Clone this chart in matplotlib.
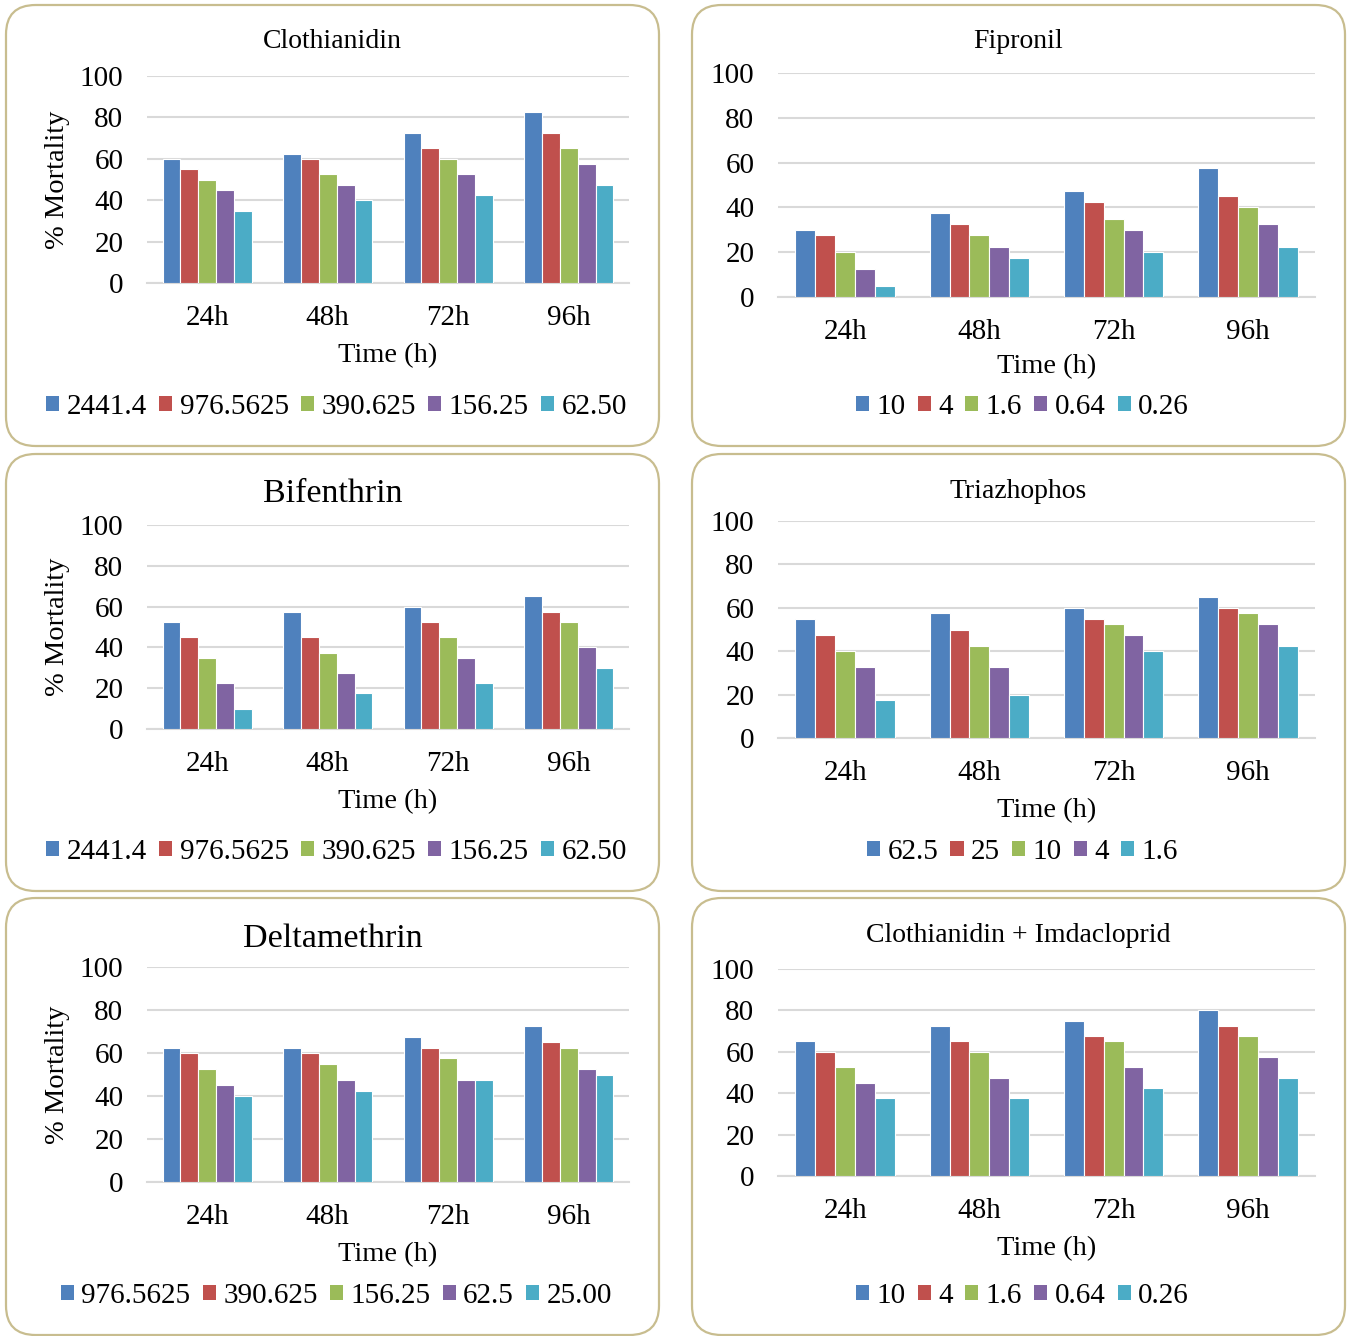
import matplotlib
matplotlib.use("Agg")
import matplotlib.pyplot as plt
from matplotlib.patches import FancyBboxPatch, Patch
import numpy as np

plt.rcParams['font.family'] = ['Liberation Serif', 'DejaVu Serif']

times = ["24h", "48h", "72h", "96h"]
colors = ["#4F81BD", "#C0504D", "#9BBB59", "#8064A2", "#4BACC6"]

# Clothianidin
cloth_labels = ["2441.4", "976.5625", "390.625", "156.25", "62.50"]
cloth_vals = [[60, 62.5, 72.5, 82.5],
              [55, 60, 65, 72.5],
              [50, 52.5, 60, 65],
              [45, 47.5, 52.5, 57.5],
              [35, 40, 42.5, 47.5]]
# Fipronil
fip_labels = ["10", "4", "1.6", "0.64", "0.26"]
fip_vals = [[30, 37.5, 47.5, 57.5],
            [27.5, 32.5, 42.5, 45],
            [20, 27.5, 35, 40],
            [12.5, 22.5, 30, 32.5],
            [5, 17.5, 20, 22.5]]
# Bifenthrin
bif_labels = ["2441.4", "976.5625", "390.625", "156.25", "62.50"]
bif_vals = [[52.5, 57.5, 60, 65],
            [45, 45, 52.5, 57.5],
            [35, 37.5, 45, 52.5],
            [22.5, 27.5, 35, 40],
            [10, 17.5, 22.5, 30]]
# Triazhophos
tri_labels = ["62.5", "25", "10", "4", "1.6"]
tri_vals = [[55, 57.5, 60, 65],
            [47.5, 50, 55, 60],
            [40, 42.5, 52.5, 57.5],
            [32.5, 32.5, 47.5, 52.5],
            [17.5, 20, 40, 42.5]]
# Deltamethrin
del_labels = ["976.5625", "390.625", "156.25", "62.5", "25.00"]
del_vals = [[62.5, 62.5, 67.5, 72.5],
            [60, 60, 62.5, 65],
            [52.5, 55, 57.5, 62.5],
            [45, 47.5, 47.5, 52.5],
            [40, 42.5, 47.5, 50]]
# Clothianidin + Imdacloprid
ci_labels = ["10", "4", "1.6", "0.64", "0.26"]
ci_vals = [[65, 72.5, 75, 80],
           [60, 65, 67.5, 72.5],
           [52.5, 60, 65, 67.5],
           [45, 47.5, 52.5, 57.5],
           [37.5, 37.5, 42.5, 47.5]]

W, H = 1347, 1336
fig = plt.figure(figsize=(W / 100, H / 100), dpi=100)


def fx(x):
    return x / W


def fy(y):
    return 1 - y / H


panels = [
    dict(title="Clothianidin", labels=cloth_labels, vals=cloth_vals,
         box=(6, 5, 659, 446), ax=(147, 76, 629, 283), tfs=20, ty=42,
         ylabel=True, xl=356, lg=407),
    dict(title="Fipronil", labels=fip_labels, vals=fip_vals,
         box=(692, 5, 1345, 446), ax=(778, 73, 1315, 297), tfs=20, ty=42,
         ylabel=False, xl=367, lg=407),
    dict(title="Bifenthrin", labels=bif_labels, vals=bif_vals,
         box=(6, 454, 659, 891), ax=(147, 525, 629, 729), tfs=24.5, ty=494,
         ylabel=True, xl=802, lg=852),
    dict(title="Triazhophos", labels=tri_labels, vals=tri_vals,
         box=(692, 454, 1345, 891), ax=(778, 521, 1315, 738), tfs=20, ty=491,
         ylabel=False, xl=811, lg=852),
    dict(title="Deltamethrin", labels=del_labels, vals=del_vals,
         box=(6, 898, 659, 1335), ax=(147, 967, 629, 1182), tfs=24.5, ty=939,
         ylabel=True, xl=1255, lg=1296),
    dict(title="Clothianidin + Imdacloprid", labels=ci_labels, vals=ci_vals,
         box=(692, 898, 1345, 1335), ax=(778, 969, 1315, 1176), tfs=20, ty=936,
         ylabel=False, xl=1249, lg=1296),
]

FS = 21
for p in panels:
    bx0, by0, bx1, by1 = p["box"]
    patch = FancyBboxPatch((fx(bx0), fy(by1)), fx(bx1) - fx(bx0), fy(by0) - fy(by1),
                           boxstyle="round,pad=0,rounding_size=0.022",
                           transform=fig.transFigure, facecolor="none",
                           edgecolor="#c8bd8f", linewidth=1.6, zorder=-1)
    fig.patches.append(patch)

    ax0, ay0, ax1, ay1 = p["ax"]
    ax = fig.add_axes([fx(ax0), fy(ay1), fx(ax1) - fx(ax0), fy(ay0) - fy(ay1)])
    ax.set_facecolor("none")
    x = np.arange(len(times))
    n = len(p["labels"])
    bw = 0.148
    for i in range(n):
        ax.bar(x + (i - (n - 1) / 2) * bw, p["vals"][i], width=bw,
               color=colors[i], edgecolor="white", linewidth=0.8, zorder=3)
    ax.set_xlim(-0.5, 3.5)
    ax.set_ylim(0, 100)
    ax.set_yticks(range(0, 101, 20))
    ax.set_xticks(x)
    ax.set_xticklabels(times)
    ax.grid(axis="y", color="#d9d9d9", linewidth=1.5, zorder=0)
    ax.set_axisbelow(True)
    for s in ["top", "right", "left"]:
        ax.spines[s].set_visible(False)
    ax.spines["bottom"].set_color("#d9d9d9")
    ax.spines["bottom"].set_linewidth(1.5)
    ax.tick_params(axis="both", length=0, labelsize=FS)
    ax.tick_params(axis="y", pad=17)
    ax.tick_params(axis="x", pad=16)

    cx = (fx(bx0) + fx(bx1)) / 2
    fig.text(cx, fy(p["ty"]), p["title"], ha="center", va="center", fontsize=p["tfs"])
    fig.text((fx(ax0) + fx(ax1)) / 2, fy(p["xl"]), "Time (h)", ha="center",
             va="center", fontsize=20.5)
    if p["ylabel"]:
        fig.text(fx(57), (fy(ay0) + fy(ay1)) / 2, "% Mortality", rotation=90,
                 ha="center", va="center", fontsize=20.5)
    handles = [Patch(facecolor=colors[i], edgecolor="none") for i in range(n)]
    fig.legend(handles, p["labels"], loc="center", bbox_to_anchor=(cx + 0.003, fy(p["lg"])),
               ncol=n, frameon=False, fontsize=FS, handlelength=0.45, handleheight=0.45,
               handletextpad=0.25, columnspacing=0.42, borderaxespad=0)

fig.savefig("out.png", dpi=100)
